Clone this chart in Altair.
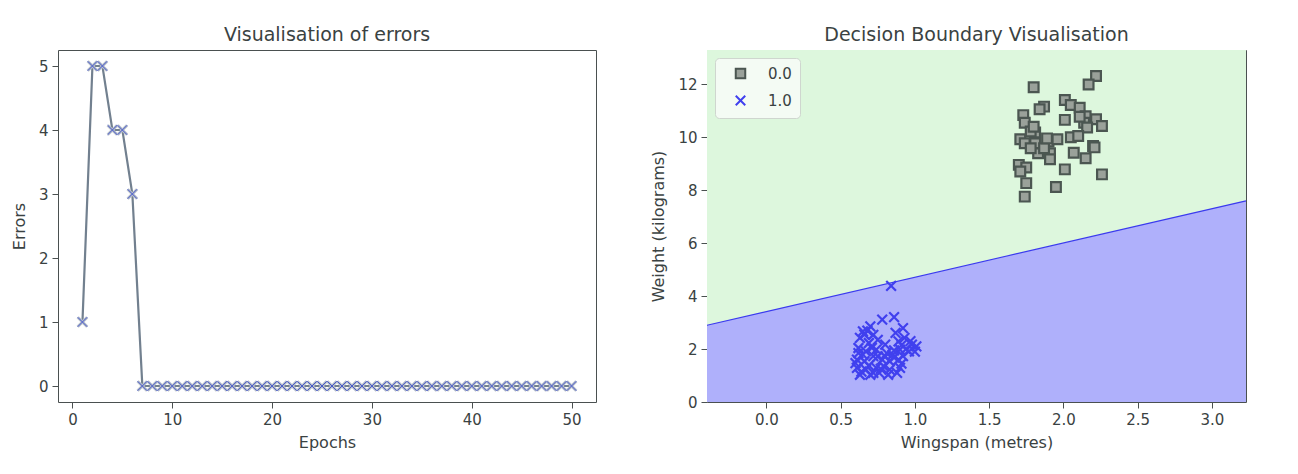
import pandas as pd
import altair as alt

# left panel: errors per epoch
epochs = list(range(1, 51))
errors = [1, 5, 5, 4, 4, 3, 0, 0, 0, 0,
          0, 0, 0, 0, 0, 0, 0, 0, 0, 0,
          0, 0, 0, 0, 0, 0, 0, 0, 0, 0,
          0, 0, 0, 0, 0, 0, 0, 0, 0, 0,
          0, 0, 0, 0, 0, 0, 0, 0, 0, 0]

# right panel: samples of class 0.0 (grey squares) and 1.0 (blue crosses)
gray_x = [2.22, 2.17, 1.80, 1.87, 1.84, 2.01, 2.05, 2.11, 1.73, 1.74,
          2.15, 2.22, 2.26, 2.01, 2.14, 2.16, 1.81, 1.78, 1.71, 1.74,
          1.81, 1.90, 1.96, 1.83, 1.91, 1.91, 2.05, 2.10, 2.20, 2.07,
          2.15, 1.70, 1.75, 1.71, 1.75, 2.01, 2.26, 1.95, 1.74, 1.80,
          1.87, 1.78, 2.11, 2.21, 1.89]
gray_y = [12.32, 12.00, 11.89, 11.16, 11.06, 11.41, 11.22, 11.12, 10.84, 10.55,
          10.80, 10.68, 10.43, 10.66, 10.55, 10.37, 10.18, 10.22, 9.93, 9.78,
          9.78, 9.84, 9.93, 9.40, 9.40, 9.17, 10.00, 10.05, 9.67, 9.42,
          9.21, 8.96, 8.86, 8.71, 8.27, 8.79, 8.60, 8.12, 7.76, 10.40,
          9.59, 9.59, 10.78, 9.62, 9.96]
blue_x = [0.78, 0.86, 0.92, 0.70, 0.65, 0.72, 0.63, 0.69, 0.75, 0.62,
          0.67, 0.74, 0.81, 0.87, 0.89, 0.93, 0.98, 1.01, 0.96, 0.90,
          0.85, 0.61, 0.66, 0.72, 0.78, 0.83, 0.89, 0.61, 0.67, 0.74,
          0.79, 0.83, 0.90, 0.63, 0.70, 0.76, 0.82, 0.88, 0.65, 0.80,
          0.92, 0.60, 0.72, 0.84, 0.64, 0.69, 0.75, 0.80, 0.86, 0.91,
          0.94, 1.00, 0.97, 0.66, 0.71, 0.62, 0.68, 0.86, 0.91, 0.77]
blue_y = [3.11, 3.21, 2.79, 2.86, 2.67, 2.54, 2.42, 2.23, 2.35, 2.04,
          1.91, 1.98, 1.85, 2.61, 2.29, 2.42, 2.17, 2.10, 1.91, 1.98,
          1.79, 1.60, 1.54, 1.73, 1.60, 1.54, 1.60, 1.29, 1.22, 1.29,
          1.35, 1.22, 1.29, 1.03, 1.03, 1.10, 1.03, 1.10, 1.79, 2.17,
          1.73, 1.47, 1.10, 4.39, 1.15, 1.38, 1.72, 1.72, 1.68, 1.45,
          2.00, 1.90, 2.30, 2.55, 2.05, 1.85, 2.70, 1.95, 2.15, 1.25]
classes = ['0.0', '1.0']

# decision boundary (perceptron line) at the plot edges
bound_x = [-0.40, 3.23]
bound_y = [2.90, 7.60]
y_top = 13.3

XPATH = 'M-1,-1L1,1M-1,1L1,-1'
FONT = 'DejaVu Sans'
TEXT = '#3a4242'
FRAME = '#4a5050'

err_df = pd.DataFrame({'epoch': epochs, 'errors': errors})

ex = alt.X('epoch:Q', title='Epochs',
           scale=alt.Scale(domain=[-1.45, 52.45], nice=False, zero=False),
           axis=alt.Axis(values=[0, 10, 20, 30, 40, 50]))
ey = alt.Y('errors:Q', title='Errors',
           scale=alt.Scale(domain=[-0.25, 5.25], nice=False, zero=False),
           axis=alt.Axis(values=[0, 1, 2, 3, 4, 5]))

err_line = alt.Chart(err_df).mark_line(color='#72808f', strokeWidth=2.2).encode(x=ex, y=ey)
err_halo = alt.Chart(err_df).mark_point(
    shape=XPATH, size=90, filled=False, stroke='#b8c0ca', strokeWidth=3, opacity=1
).encode(x=ex, y=ey)
err_mark = alt.Chart(err_df).mark_point(
    shape=XPATH, size=90, filled=False, stroke='#4455cc', strokeWidth=1, opacity=1
).encode(x=ex, y=ey)

left = alt.layer(err_line, err_halo, err_mark).properties(
    width=538, height=352, title='Visualisation of errors'
)

# right panel
region_df = pd.DataFrame({'x': bound_x, 'y': bound_y,
                          'top': [y_top, y_top], 'bottom': [0, 0]})
pts_df = pd.DataFrame({
    'x': gray_x + blue_x,
    'y': gray_y + blue_y,
    'cls': [classes[0]] * len(gray_x) + [classes[1]] * len(blue_x),
})

xs = alt.Scale(domain=[-0.40, 3.23], nice=False, zero=False)
ys = alt.Scale(domain=[0, y_top], nice=False, zero=False)
rx = alt.X('x:Q', title='Wingspan (metres)', scale=xs,
           axis=alt.Axis(values=[0, 0.5, 1, 1.5, 2, 2.5, 3], format='.1f'))
ry = alt.Y('y:Q', title='Weight (kilograms)', scale=ys,
           axis=alt.Axis(values=[0, 2, 4, 6, 8, 10, 12]))

upper = alt.Chart(region_df).mark_area(color='#ddf7dd', opacity=1).encode(
    x=rx, y=ry, y2='top:Q')
lower = alt.Chart(region_df).mark_area(color='#afb0fb', opacity=1).encode(
    x=rx, y=ry, y2='bottom:Q')
edge = alt.Chart(region_df).mark_line(color='#3a3aee', strokeWidth=1.2).encode(x=rx, y=ry)

leg = alt.Legend(title=None, orient='top-left', offset=8, padding=8,
                 symbolOffset=10, labelOffset=20, rowPadding=8,
                 fillColor='#f4fbf4', strokeColor='#cfd6cf', cornerRadius=4,
                 labelFontSize=15, labelFont=FONT, labelColor=TEXT,
                 symbolSize=90, symbolStrokeWidth=2)

pts = alt.Chart(pts_df).mark_point(filled=True, size=95, strokeWidth=2.2, opacity=1).encode(
    x=rx, y=ry,
    color=alt.Color('cls:N', scale=alt.Scale(domain=classes, range=['#9aa19a', '#4040ee']), legend=leg),
    stroke=alt.Stroke('cls:N', scale=alt.Scale(domain=classes, range=['#4b5651', '#4040ee']), legend=leg),
    shape=alt.Shape('cls:N', scale=alt.Scale(domain=classes, range=['square', XPATH]), legend=leg),
)

right = alt.layer(upper, lower, edge, pts).properties(
    width=539, height=352, title='Decision Boundary Visualisation'
)

chart = alt.hconcat(left, right, spacing=53).resolve_legend(
    color='independent', stroke='independent', shape='independent'
).properties(
    padding={'left': 2, 'top': 17, 'right': 5, 'bottom': 5}
).configure_view(
    stroke=FRAME, strokeWidth=1
).configure_axis(
    grid=False, domain=False, tickSize=6, tickColor=FRAME, labelPadding=4,
    labelFont=FONT, labelFontSize=15, labelColor=TEXT, labelFlush=False,
    titleFont=FONT, titleFontSize=16, titleFontWeight='normal', titleColor=TEXT,
    titlePadding=11
).configure_axisX(
    titlePadding=7
).configure_title(
    font=FONT, fontSize=19, fontWeight='normal', color=TEXT, offset=5, anchor='middle'
)

chart.save('out.html', embed_options={'renderer': 'svg', 'actions': False})
